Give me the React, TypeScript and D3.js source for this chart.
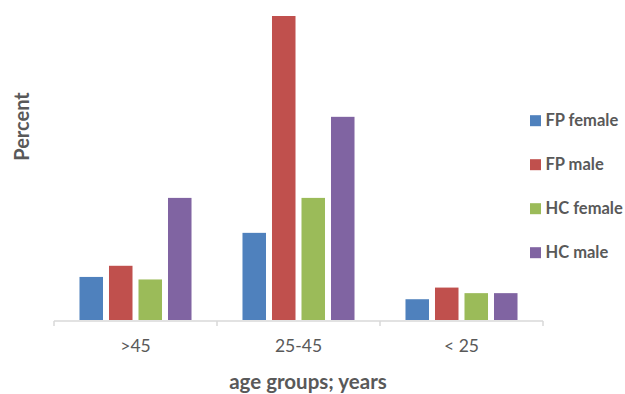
import React from "react";
import * as d3 from "d3";

// Age groups shown along the x axis
const categories = [">45", "25-45", "< 25"];
// Series names (legend order)
const seriesNames = ["FP female", "FP male", "HC female", "HC male"];
// Percent values per series, in category order
const fpFemale = [8.5, 17.2, 4.1];
const fpMale = [10.7, 60, 6.4];
const hcFemale = [8.0, 24.1, 5.3];
const hcMale = [24.1, 40.1, 5.3];
const seriesValues = [fpFemale, fpMale, hcFemale, hcMale];
const seriesColors = ["#4F81BD", "#C0504D", "#9BBB59", "#8064A2"];

const W = 625;
const H = 394;
const plotLeft = 54;
const plotRight = 543;
const plotTop = 16;
const baseY = 320;
const textColor = "#595959";
const font = "Lato, 'Open Sans', sans-serif";

export default function App() {
  const x0 = d3.scaleBand<string>().domain(categories).range([plotLeft, plotRight]).padding(0);
  const x1 = d3
    .scaleBand<string>()
    .domain(seriesNames)
    .range([0, x0.bandwidth()])
    .paddingInner(0.203)
    .paddingOuter(0.864);
  const y = d3.scaleLinear().domain([0, 60]).range([baseY, plotTop]);

  const tickXs = [...categories.map((c) => x0(c) as number), plotRight];

  return (
    <svg
      width={W}
      height={H}
      style={{ position: "absolute", left: 0, top: 0, background: "#fff" }}
      fontFamily={font}
    >
      {/* bars */}
      {categories.map((c, ci) => (
        <g key={c} transform={`translate(${x0(c)},0)`}>
          {seriesNames.map((s, si) => {
            const v = seriesValues[si][ci];
            return (
              <rect
                key={s}
                x={x1(s)}
                y={y(v)}
                width={x1.bandwidth()}
                height={baseY - y(v)}
                fill={seriesColors[si]}
              />
            );
          })}
        </g>
      ))}

      {/* category axis */}
      <line x1={plotLeft} x2={plotRight} y1={baseY + 1} y2={baseY + 1} stroke="#D9D9D9" strokeWidth={1.5} />
      {tickXs.map((tx, i) => (
        <line key={i} x1={tx} x2={tx} y1={baseY + 1} y2={baseY + 6} stroke="#D9D9D9" strokeWidth={1.5} />
      ))}
      {categories.map((c) => (
        <text
          key={c}
          x={(x0(c) as number) + x0.bandwidth() / 2}
          y={352}
          textAnchor="middle"
          fontSize={17.5}
          fill={textColor}
        >
          {c}
        </text>
      ))}

      {/* axis titles */}
      <text x={308} y={389} textAnchor="middle" fontSize={20.5} fontWeight="bold" fill={textColor}>
        age groups; years
      </text>
      <text
        transform="translate(29,126.5) rotate(-90)"
        textAnchor="middle"
        fontSize={20}
        fontWeight="bold"
        fill={textColor}
      >
        Percent
      </text>

      {/* legend */}
      {seriesNames.map((s, i) => {
        const cy = 120.7 + i * 44;
        return (
          <g key={s}>
            <rect x={530} y={cy - 5.5} width={11} height={11} fill={seriesColors[i]} />
            <text x={545.5} y={cy + 5.5} fontSize={16.5} fontWeight="bold" fill={textColor}>
              {s}
            </text>
          </g>
        );
      })}
    </svg>
  );
}
